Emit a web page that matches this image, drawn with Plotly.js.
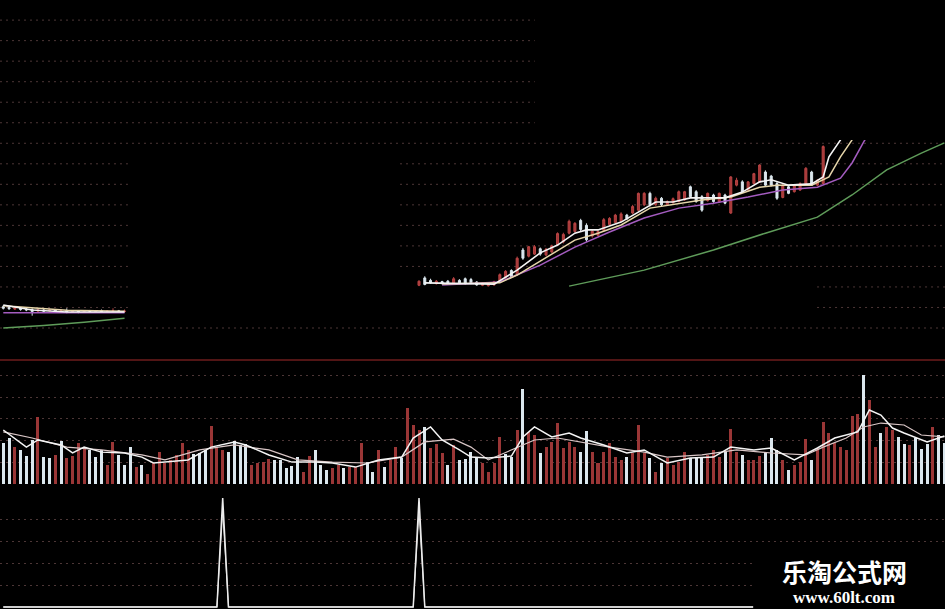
<!DOCTYPE html>
<html>
<head>
<meta charset="utf-8">
<script src="https://cdn.plot.ly/plotly-3.0.1.min.js"></script>
<style>
  html, body { margin: 0; padding: 0; background: #000; }
  #chart { width: 945px; height: 609px; }
</style>
</head>
<body>
<div id="chart"></div>
<script>
// ---- price candles (bar index, open, high, low, close) ----
const candleIdx = [
  0,1,2,3,4,5,6,7,8,9,10,11,12,13,14,15,16,17,18,19,20,21,
  72,73,74,75,76,77,78,79,80,81,82,83,84,85,86,87,88,89,90,91,92,93,94,95,96,97,98,99,
  100,101,102,103,104,105,106,107,108,109,110,111,112,113,114,115,116,117,118,119,
  120,121,122,123,124,125,126,127,128,129,130,131,132,133,134,135,136,137,138,139,140,141,142
];
const openP = [
  9.52,9.50,9.46,9.49,9.46,9.45,9.41,9.44,9.42,9.44,9.41,9.42,9.40,9.41,9.39,9.41,9.40,9.42,9.40,9.41,9.42,9.40,
  10.04,10.22,10.16,10.08,10.13,10.14,10.09,10.16,10.20,10.18,10.12,10.04,10.03,10.05,10.13,10.22,10.40,10.30,10.90,10.75,10.80,10.93,10.78,10.85,11.02,11.10,11.31,11.35,
  11.62,11.50,11.24,11.26,11.38,11.52,11.57,11.60,11.75,11.80,11.87,12.00,12.28,12.00,12.16,12.00,12.05,12.08,12.12,12.44,
  12.32,12.20,12.10,12.24,12.08,12.24,11.80,12.48,12.56,12.36,12.52,12.56,12.80,12.70,12.52,12.18,12.44,12.32,12.36,12.48,12.80,12.48,12.52
];
const highP = [
  9.56,9.54,9.52,9.51,9.50,9.48,9.47,9.46,9.47,9.46,9.45,9.48,9.43,9.43,9.43,9.44,9.44,9.45,9.43,9.48,9.44,9.45,
  10.16,10.26,10.20,10.17,10.15,10.17,10.24,10.19,10.23,10.22,10.14,10.11,10.10,10.15,10.33,10.41,10.43,10.74,10.95,11.00,11.02,10.96,10.95,11.03,11.33,11.32,11.64,11.58,
  11.66,11.55,11.40,11.38,11.68,11.70,11.78,11.82,11.78,12.00,12.30,12.31,12.32,12.20,12.19,12.11,12.18,12.35,12.34,12.47,
  12.36,12.24,12.30,12.27,12.30,12.27,12.70,12.66,12.60,12.58,12.78,12.99,12.84,12.73,12.56,12.50,12.47,12.50,12.55,12.92,12.83,12.62,13.45
];
const lowP = [
  9.45,9.44,9.44,9.42,9.41,9.30,9.39,9.38,9.40,9.37,9.38,9.36,9.37,9.36,9.37,9.38,9.38,9.38,9.38,9.39,9.38,9.38,
  10.02,10.04,10.08,10.06,10.06,10.08,10.07,10.08,10.06,10.07,10.03,10.02,10.01,10.03,10.11,10.20,10.22,10.28,10.66,10.72,10.78,10.76,10.75,10.83,11.00,11.06,11.28,11.32,
  11.36,11.10,11.20,11.24,11.35,11.50,11.55,11.58,11.63,11.77,11.84,11.97,11.96,11.98,11.97,11.98,12.03,12.06,12.10,12.18,
  12.05,11.83,12.08,12.05,12.06,12.02,11.78,12.45,12.30,12.33,12.50,12.54,12.45,12.45,12.12,12.16,12.26,12.30,12.34,12.46,12.46,12.46,12.50
];
const closeP = [
  9.48,9.47,9.49,9.45,9.44,9.40,9.44,9.41,9.44,9.40,9.42,9.39,9.41,9.39,9.41,9.40,9.42,9.40,9.41,9.42,9.40,9.41,
  10.14,10.06,10.10,10.14,10.09,10.10,10.20,10.10,10.08,10.10,10.05,10.09,10.08,10.13,10.30,10.38,10.25,10.70,10.70,10.98,10.98,10.80,10.92,11.00,11.30,11.28,11.60,11.55,
  11.40,11.15,11.36,11.35,11.64,11.67,11.75,11.78,11.66,11.96,12.28,12.28,12.00,12.16,12.00,12.08,12.15,12.32,12.32,12.20,
  12.08,11.87,12.28,12.08,12.28,12.04,12.68,12.60,12.32,12.56,12.76,12.97,12.48,12.48,12.16,12.48,12.28,12.48,12.52,12.89,12.48,12.60,13.42
];

// ---- price moving averages (null splits the two segments) ----
const ma5Idx  = [0,2,5,11,17,21,null,73,85,89,93,96,99,101,103,107,111,113,116,119,121,125,128,131,133,136,140,142,143,145,147];
const ma5Val  = [9.56,9.51,9.44,9.39,9.39,9.39,null,10.10,10.07,10.41,10.83,11.02,11.31,11.39,11.39,11.58,11.92,12.07,12.07,12.17,12.17,12.17,12.31,12.56,12.61,12.48,12.51,12.68,13.17,13.58,14.30];
const ma10Idx = [0,5,11,21,null,76,86,89,94,99,103,107,112,117,121,126,131,134,140,143,145,147,149];
const ma10Val = [9.54,9.49,9.43,9.41,null,10.07,10.10,10.29,10.71,11.14,11.31,11.51,11.92,12.04,12.12,12.19,12.43,12.48,12.48,12.68,13.17,13.58,14.20];
const ma20Idx = [0,10,21,null,76,86,93,99,105,111,117,123,129,135,141,145,147,149,151];
const ma20Val = [9.37,9.37,9.37,null,10.05,10.12,10.53,10.97,11.34,11.68,11.92,12.04,12.19,12.36,12.43,12.65,13.02,13.53,14.00];
const ma60Idx = [0,7,14,21,null,98,111,123,132,141,147,153,159,163];
const ma60Val = [9.00,9.06,9.14,9.24,null,10.02,10.41,10.90,11.31,11.70,12.24,12.85,13.26,13.51];

// ---- volume bars, one per session; r = up day, w = down day ----
const volume = [
  1890,2120,1700,1570,1290,2030,3090,1250,1200,1340,1980,1200,1290,1890,1700,1570,1240,1570,880,1940,
  1340,880,1700,780,880,460,970,1470,970,1110,1340,1890,1570,1380,1430,1570,2670,1700,1570,1470,
  1980,1800,1840,880,970,1010,1150,1110,1110,740,830,1240,550,1290,1570,880,650,740,880,740,
  780,780,1890,1010,550,1570,780,1110,1700,1200,3500,2720,2490,2630,1660,1840,1430,880,1800,1110,
  1150,1470,1240,970,550,970,2170,1380,1240,2490,4380,2400,2260,1430,1700,1940,2810,1660,1940,1700,
  1470,2440,1470,970,1470,1890,1240,1110,1240,1430,2720,1430,1200,550,970,1200,880,1010,1470,1200,
  1200,1240,1340,1570,1240,1470,2530,1470,1340,1110,1110,1290,1470,2120,1570,1110,650,880,1010,2070,
  1110,1660,2860,2350,1890,1700,1570,3130,3230,5020,3870,1700,2350,2630,2490,2170,1840,1800,2120,1610,
  1840,2630,2260,1890
];
const volDir = [
  'w','w','r','w','w','w','r','w','w','r','w','r','r','r','r','w','w','w','r','r',
  'w','w','w','r','w','r','r','r','r','r','r','r','r','w','w','w','r','r','r','w',
  'w','w','w','r','r','r','r','w','w','w','w','w','r','r','w','w','w','r','r','w',
  'r','r','r','w','w','r','w','r','r','w','r','r','r','w','r','r','r','w','r','w',
  'w','w','w','r','r','r','r','w','w','r','w','r','r','w','r','r','r','r','r','r',
  'w','w','r','r','r','r','r','r','w','r','r','r','w','r','w','r','r','r','r','w',
  'w','w','r','r','r','w','r','r','w','r','r','r','w','w','w','r','w','r','r','r',
  'w','r','r','r','r','r','r','r','r','w','r','r','w','r','r','w','w','r','w','w',
  'w','r','w','w'
];

// ---- volume moving averages ----
const vma5Idx = [0,4,6,10,12,14,17,21,24,26,32,36,40,42,46,50,54,57,61,65,69,71,74,76,79,81,84,88,90,92,95,98,100,104,108,111,115,119,123,126,130,133,137,141,144,148,150,152,154,156,160,163];
const vma5Val = [2490,1700,2030,1800,1430,1700,1470,1430,1240,970,1110,1700,1940,1800,1340,1010,1010,970,780,1110,1240,2120,2630,2030,1570,1240,1200,1290,2170,2630,2170,2350,2120,1800,1430,1570,970,1200,1240,1700,1570,1660,1110,1660,2120,2400,3410,3180,2580,2350,1940,2210];
const vma10Idx = [0,5,11,17,24,28,34,40,46,51,57,63,69,73,78,81,84,90,92,96,100,105,111,115,121,127,133,139,142,146,149,152,156,159,163];
const vma10Val = [2400,2120,1700,1570,1340,1110,1570,1800,1570,1110,1010,970,1240,1940,2070,1700,1110,1800,2030,2120,1940,1700,1470,1240,1340,1570,1430,1340,1700,2120,2630,2810,2720,2260,2170];

// ---- signal indicator (two strokes) ----
const sigIdx  = [0,37,38,39,71,72,73,163];
const sigA    = [0,0,100,0,0,100,0,0];
const sigB    = [0,0,88,0,0,88,0,0];

const UP = '#a43838', DOWN = '#dbe7ee';
const GRID = '#4c3636';
const DASH = '2px,4px';

const traces = [
  { type: 'candlestick', x: candleIdx, open: openP, high: highP, low: lowP, close: closeP,
    xaxis: 'x', yaxis: 'y', hoverinfo: 'skip', whiskerwidth: 0,
    increasing: { line: { color: '#b84444', width: 1 }, fillcolor: UP },
    decreasing: { line: { color: DOWN, width: 1 }, fillcolor: DOWN } },
  { type: 'scatter', mode: 'lines', x: ma60Idx, y: ma60Val, yaxis: 'y', connectgaps: false,
    line: { color: '#5f9c5a', width: 1.5 } },
  { type: 'scatter', mode: 'lines', x: ma20Idx, y: ma20Val, yaxis: 'y', connectgaps: false,
    line: { color: '#a45cc0', width: 1.5 } },
  { type: 'scatter', mode: 'lines', x: ma10Idx, y: ma10Val, yaxis: 'y', connectgaps: false,
    line: { color: '#e6d6aa', width: 1.5 } },
  { type: 'scatter', mode: 'lines', x: ma5Idx, y: ma5Val, yaxis: 'y', connectgaps: false,
    line: { color: '#f4f4f4', width: 1.6 } },

  { type: 'bar', x: volume.map((_, i) => i), y: volume, yaxis: 'y2', width: 0.52,
    marker: { color: volDir.map(d => d === 'r' ? '#9a3636' : DOWN), line: { width: 0 } },
    hoverinfo: 'skip' },
  { type: 'scatter', mode: 'lines', x: vma10Idx, y: vma10Val, yaxis: 'y2',
    line: { color: '#d9c6c6', width: 1.2 } },
  { type: 'scatter', mode: 'lines', x: vma5Idx, y: vma5Val, yaxis: 'y2',
    line: { color: '#f4f4f4', width: 1.5 } },

  { type: 'scatter', mode: 'lines', x: sigIdx, y: sigB, yaxis: 'y3',
    line: { color: '#e8e8e8', width: 1 } },
  { type: 'scatter', mode: 'lines', x: sigIdx, y: sigA, yaxis: 'y3',
    line: { color: '#ececec', width: 1.5 } }
];

function gridAxis(domain, range, ticks, grid) {
  return {
    domain: domain, range: range, tickvals: ticks,
    showticklabels: false, ticks: '', showline: false, zeroline: false,
    showgrid: grid, gridcolor: GRID, gridwidth: 1, griddash: DASH,
    fixedrange: true
  };
}

// Price window guide lines: [price level, spans of the window width they cross]
const priceGuides = [
  [16.5, [[0, 0.566]]], [16.0, [[0, 0.566]]], [15.5, [[0, 0.566]]],
  [15.0, [[0, 0.566]]], [14.5, [[0, 0.566]]], [14.0, [[0, 0.566]]],
  [13.5, [[0, 1]]],
  [13.0, [[0, 0.1354], [0.4233, 1]]], [12.5, [[0, 0.1354], [0.4233, 1]]],
  [12.0, [[0, 0.1354], [0.4233, 1]]], [11.5, [[0, 0.1354], [0.4233, 1]]],
  [11.0, [[0, 0.1354], [0.4233, 1]]], [10.5, [[0, 0.1354], [0.4233, 1]]],
  [10.0, [[0, 0.1354], [0.8646, 1]]], [9.5, [[0, 0.1354], [0.8646, 1]]],
  [9.0, [[0, 1]]]
];
const guideShapes = [];
priceGuides.forEach(([lvl, spans]) => spans.forEach(([a, b]) => guideShapes.push({
  type: 'line', xref: 'paper', yref: 'y', x0: a, x1: b, y0: lvl, y1: lvl,
  line: { color: GRID, width: 1, dash: DASH }, layer: 'below'
})));

const layout = {
  width: 945, height: 609,
  margin: { l: 0, r: 0, t: 0, b: 0 },
  paper_bgcolor: '#000', plot_bgcolor: '#000',
  showlegend: false, boxgap: 0.5, bargap: 0,
  xaxis: { range: [-0.57, 163.1], visible: false, rangeslider: { visible: false },
           fixedrange: true, anchor: 'y3' },
  yaxis: gridAxis([0.4122, 1], [8.27, 16.99], [], false),
  yaxis2: gridAxis([0.2003, 0.4072], [-138, 5668], [1000, 2000, 3000, 4000, 5000], true),
  yaxis3: gridAxis([0, 0.1987], [-1.83, 109.2], [20, 40, 60, 80], true),
  shapes: guideShapes.concat([
    // blank pane over the upper right of the price window
    { type: 'rect', xref: 'paper', yref: 'paper', x0: 0.566, x1: 1, y0: 0.7701, y1: 1,
      fillcolor: '#000', line: { width: 0 }, layer: 'above' },
    // separator between price and volume windows
    { type: 'line', xref: 'paper', yref: 'paper', x0: 0, x1: 1, y0: 0.4089, y1: 0.4089,
      line: { color: '#6e1d1d', width: 1.5 }, layer: 'above' },
    // backing box for the site mark
    { type: 'rect', xref: 'paper', yref: 'paper', x0: 0.797, x1: 1, y0: 0, y1: 0.0969,
      fillcolor: '#000', line: { width: 0 }, layer: 'above' }
  ]),
  annotations: [
    { text: '乐淘公式网', xref: 'paper', yref: 'paper', x: 0.894, y: 0.0624,
      xanchor: 'center', yanchor: 'middle', showarrow: false,
      font: { family: 'Noto Sans CJK SC', size: 25, color: '#ffffff', weight: 700 } },
    { text: 'www.60lt.com', xref: 'paper', yref: 'paper', x: 0.893, y: 0.0197,
      xanchor: 'center', yanchor: 'middle', showarrow: false,
      font: { family: 'Liberation Serif', size: 17, color: '#ffffff', weight: 700 } }
  ]
};

Plotly.newPlot('chart', traces, layout, { staticPlot: true, displayModeBar: false });
</script>
</body>
</html>
